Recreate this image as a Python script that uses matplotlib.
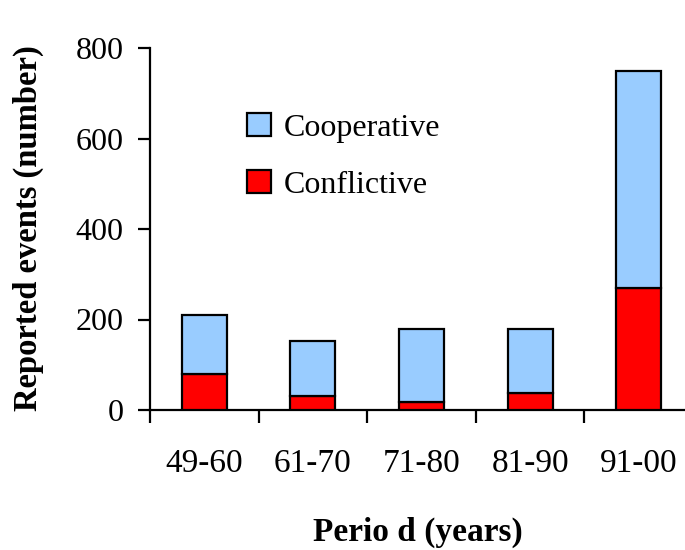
import matplotlib
matplotlib.use("Agg")
import matplotlib.pyplot as plt
import numpy as np
from matplotlib.patches import Patch

periods = ["49-60", "61-70", "71-80", "81-90", "91-00"]
total_events = [210, 153, 178, 178, 750]
conflictive = [80, 30, 18, 37, 270]
cooperative = [t - c for t, c in zip(total_events, conflictive)]
y_ticks = [0, 200, 400, 600, 800]

plt.rcParams['font.family'] = ['Liberation Serif', 'DejaVu Serif']

fig = plt.figure(figsize=(6.85, 5.5), dpi=100)
ax = fig.add_axes([150/685, 1-410/550, 543/685, 362/550])

x = np.arange(len(periods))
w = 0.414
ax.bar(x, conflictive, width=w, color='#FF0000', edgecolor='black', linewidth=1.6, zorder=3)
ax.bar(x, cooperative, width=w, bottom=conflictive, color='#99CCFF', edgecolor='black', linewidth=1.6, zorder=3)

ax.set_xlim(-0.5, 4.5)
ax.set_ylim(0, 800)
for s in ['top', 'right']:
    ax.spines[s].set_visible(False)
for s in ['left', 'bottom']:
    ax.spines[s].set_linewidth(1.6)

ax.set_yticks(y_ticks)
ax.set_yticklabels([str(v) for v in y_ticks], fontsize=23)
ax.tick_params(axis='y', direction='out', length=9, width=1.6, pad=10)

ax.set_xticks(np.arange(-0.5, 4.5, 1.0))
ax.set_xticklabels([])
ax.tick_params(axis='x', which='major', direction='out', length=9.5, width=1.6)
ax.set_xticks(x, minor=True)
ax.set_xticklabels(periods, minor=True, fontsize=24)
ax.tick_params(axis='x', which='minor', length=0, pad=28)

handles = [Patch(facecolor='#99CCFF', edgecolor='black', linewidth=1.6, label='Cooperative'),
           Patch(facecolor='#FF0000', edgecolor='black', linewidth=1.6, label='Conflictive')]
fig.legend(handles=handles, loc='upper left', bbox_to_anchor=(247/685, 1-113/550),
           frameon=False, fontsize=23, handlelength=0.75, handleheight=0.75,
           handletextpad=0.4, labelspacing=0.85, borderpad=0, borderaxespad=0)

fig.text(28/685, 1-228/550, "Reported events (number)", rotation=90, ha='center', va='center',
         fontsize=23.5, fontweight='bold')
fig.text(418/685, 1-532/550, "Perio d (years)", ha='center', va='center',
         fontsize=24, fontweight='bold')

fig.savefig("out.png", dpi=100)
